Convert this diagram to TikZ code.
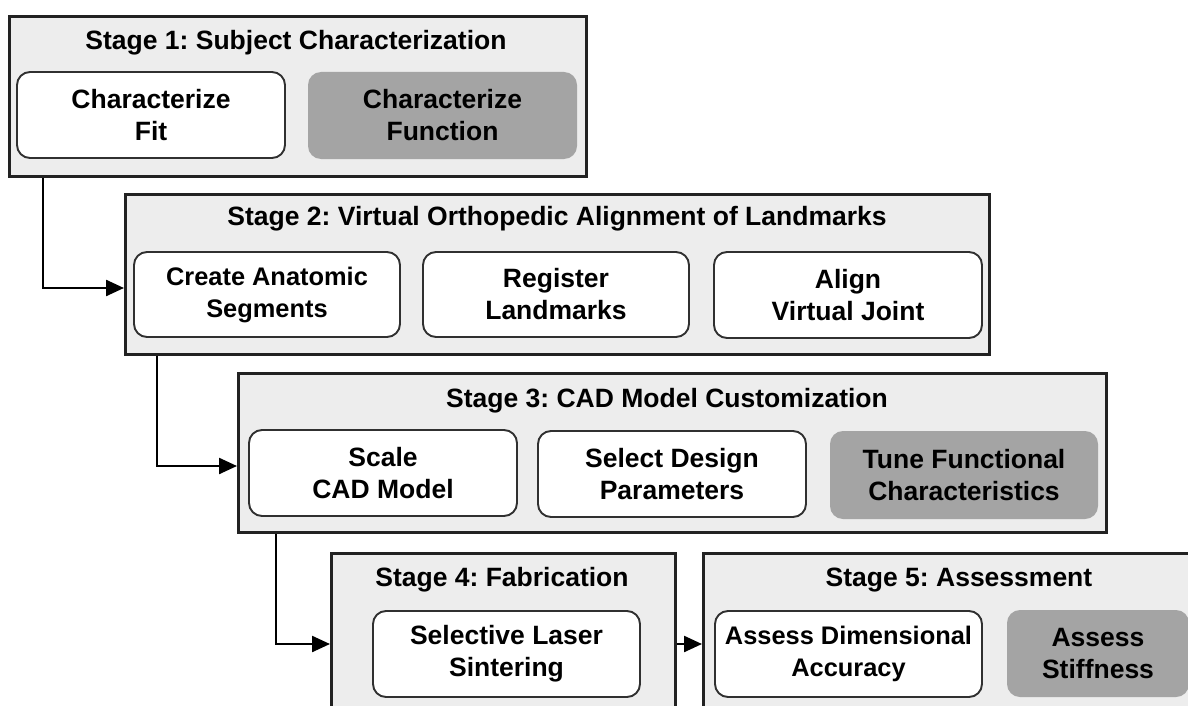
\documentclass[tikz,border=0pt]{standalone}
\usepackage{fontspec}
\setmainfont{Liberation Sans}
\usetikzlibrary{arrows.meta}
\frenchspacing

\definecolor{stagefill}{HTML}{EDEDED}
\definecolor{boxgray}{HTML}{A4A4A4}
\definecolor{edge}{HTML}{222222}
\definecolor{taskedge}{HTML}{303030}

\tikzset{
  stagebox/.style={draw=edge, line width=2.6pt, fill=stagefill, inner sep=0pt, anchor=north west},
  stagetitle/.style={anchor=base, inner sep=0pt, font=\bfseries\fontsize{26.5}{32}\selectfont},
  taskbox/.style={draw=taskedge, line width=1.9pt, fill=white, rounded corners=13pt,
    inner sep=0pt, align=center, font=\bfseries\fontsize{26.5}{32}\selectfont},
  graybox/.style={taskbox, draw=none, fill=boxgray},
  tighttext/.style={font=\bfseries\fontsize{25.4}{32}\selectfont},
  flow/.style={draw=black, line width=2.4pt, -{Triangle[length=18pt,width=16pt]}}
}

\begin{document}
\begin{tikzpicture}[x=1pt,y=-1pt]
\path[use as bounding box] (0,0) rectangle (1188,706);
\clip (0,0) rectangle (1188,706);

% Stage frames
\node[stagebox, minimum width=577pt, minimum height=160pt] (s1) at (8,15) {};
\node[stagebox, minimum width=864pt, minimum height=160pt] (s2) at (124,193) {};
\node[stagebox, minimum width=868pt, minimum height=159pt] (s3) at (237,372) {};
\node[stagebox, minimum width=344pt, minimum height=160pt] (s4) at (330,552) {};
\node[stagebox, minimum width=494pt, minimum height=160pt] (s5) at (702,552) {};

% Stage titles
\node[stagetitle] (t1) at (296,50) {Stage 1: Subject Characterization};
\node[stagetitle] (t2) at (557,225) {Stage 2: Virtual Orthopedic Alignment of Landmarks};
\node[stagetitle] (t3) at (667,407) {Stage 3: CAD Model Customization};
\node[stagetitle] (t4) at (502,586) {Stage 4: Fabrication};
\node[stagetitle] (t5) at (959,586) {Stage 5: Assessment};

% Stage 1 tasks
\node[taskbox, minimum width=268pt, minimum height=86pt] (fit) at (151,115) {Characterize\\Fit};
\node[graybox, minimum width=269pt, minimum height=87pt] (func) at (442.5,115.5) {Characterize\\Function};

% Stage 2 tasks
\node[taskbox, tighttext, minimum width=266pt, minimum height=85pt] (seg) at (267,294.5) {Create Anatomic\\Segments};
\node[taskbox, minimum width=266pt, minimum height=85pt] (reg) at (556,294.5) {Register\\Landmarks};
\node[taskbox, minimum width=268pt, minimum height=86pt] (joint) at (848,295) {Align\\Virtual Joint};

% Stage 3 tasks
\node[taskbox, minimum width=268pt, minimum height=86pt] (scale) at (383,473) {Scale\\CAD Model};
\node[taskbox, minimum width=268pt, minimum height=86pt] (param) at (672,474) {Select Design\\Parameters};
\node[graybox, minimum width=268pt, minimum height=88pt] (tune) at (964,475) {Tune Functional\\Characteristics};

% Stage 4 task
\node[taskbox, minimum width=267pt, minimum height=86pt] (sls) at (506.5,654) {Selective Laser\\Sintering};

% Stage 5 tasks
\node[taskbox, tighttext, minimum width=267pt, minimum height=86pt] (dim) at (848.5,654) {Assess Dimensional\\Accuracy};
\node[graybox, minimum width=182pt, minimum height=87pt] (stiff) at (1098,653.5) {Assess\\Stiffness};

% Elbow points of the connectors
\coordinate (j1) at (43,288);
\coordinate (j2) at (157,466);
\coordinate (j3) at (276,644);

% Connectors between stages
\draw[flow] (s1.south -| j1) |- (s2.west |- j1);
\draw[flow] (s2.south -| j2) |- (s3.west |- j2);
\draw[flow] (s3.south -| j3) |- (s4.west |- j3);
\draw[flow] (s4.east |- j3) -- (s5.west |- j3);
\end{tikzpicture}
\end{document}
